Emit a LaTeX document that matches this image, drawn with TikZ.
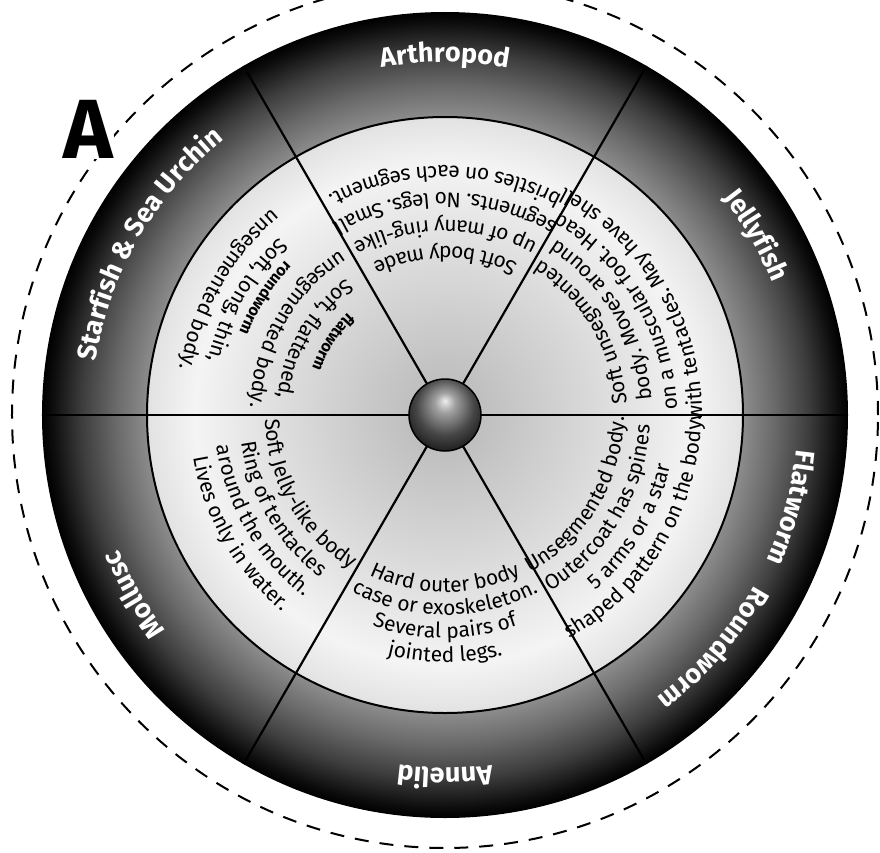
\documentclass[tikz,border=0pt]{standalone}
\usepackage{fontspec}
\setmainfont{Fira Sans}
\usetikzlibrary{decorations.text}
\definecolor{ringin}{HTML}{8E8E8E}
\definecolor{ringmid}{HTML}{6A6A6A}
\definecolor{ringdark}{HTML}{3E3E3E}
\definecolor{ringout}{HTML}{0C0C0C}
\definecolor{dsk0}{HTML}{B8B8B8}
\definecolor{dsk1}{HTML}{C0C0C0}
\definecolor{dsk2}{HTML}{DADADA}
\definecolor{dsk3}{HTML}{F4F4F4}
\definecolor{dsk4}{HTML}{E2E2E2}
\definecolor{bl0}{HTML}{EEEEEE}
\definecolor{bl1}{HTML}{A0A0A0}
\definecolor{bl2}{HTML}{464646}
\definecolor{bl3}{HTML}{141414}
\pgfdeclareradialshading{ringshade}{\pgfpoint{0bp}{0bp}}{color(0bp)=(ringin); color(18.4bp)=(ringin); color(20.4bp)=(ringmid); color(22.5bp)=(ringdark); color(24.4bp)=(ringout); color(25bp)=(black); color(50bp)=(black)}
\pgfdeclareradialshading{diskshade}{\pgfpoint{0bp}{0bp}}{color(0bp)=(dsk0); color(3.4bp)=(dsk1); color(12.6bp)=(dsk2); color(21bp)=(dsk3); color(25bp)=(dsk4); color(50bp)=(dsk4)}
\pgfdeclareradialshading{ballshade}{\pgfpoint{0bp}{10bp}}{color(0bp)=(bl0); color(7bp)=(bl1); color(20bp)=(bl2); color(32bp)=(bl3); color(50bp)=(black)}
\newcommand\wheelInner{\fontsize{21}{25}\selectfont}
\newcommand\wheelTag{\bfseries\fontsize{16}{19}\selectfont}
\newcommand\wheelLabel{\bfseries\fontsize{27}{32}\selectfont}
\newcommand\wheelline[4][\wheelInner]{%
  \pgfmathsetmacro\wlA{#2-85}\pgfmathsetmacro\wlB{#2+85}%
  \path[decorate,decoration={text along path,text align=center,text={|#1|#4}}]
    (\wlA:#3pt) arc[start angle=\wlA,end angle=\wlB,radius=#3pt];}
\newcommand\wheellabel[3]{%
  \pgfmathsetmacro\wlA{#1+85}\pgfmathsetmacro\wlB{#1-85}%
  \path[decorate,decoration={text along path,text align=center,text color=white,text={|\wheelLabel|#3}}]
    (\wlA:#2pt) arc[start angle=\wlA,end angle=\wlB,radius=#2pt];}
\tikzset{
  spoke/.style={line width=2.2pt, black},
  dashcircle/.style={line width=2pt, dash pattern=on 14pt off 11pt, black},
  rim/.style={line width=2pt, black}
}
\begin{document}
\begin{tikzpicture}
\useasboundingbox (-445pt,-437pt) rectangle (435pt,415pt);
\clip (-445pt,-437pt) rectangle (435pt,415pt);
\fill[white] (-445pt,-437pt) rectangle (435pt,415pt);
\draw[dashcircle] (0,0) circle[radius=433pt];
\shade[shading=ringshade] (0,0) circle[radius=403pt];
\shade[shading=diskshade] (0,0) circle[radius=298pt];
\draw[rim] (0,0) circle[radius=298pt];
\draw[spoke] (180:403pt) -- (0:403pt);
\foreach \a in {60,120,240,300} \draw[spoke] (\a:30pt) -- (\a:403pt);
\shade[shading=ballshade] (0,0) circle[radius=36pt];
\draw[line width=1.5pt] (0,0) circle[radius=36pt];
% top sector
\wheelline{90}{168}{Soft body made}
\wheelline{90}{195}{up of many ring-like}
\wheelline{90}{222}{segments. No legs. Small}
\wheelline{90}{249}{bristles on each segment.}
% upper right
\wheelline{31}{182}{Soft unsegmented}
\wheelline{31}{207}{body. Moves around}
\wheelline{31}{232}{on a muscular foot. Head}
\wheelline{30.5}{257}{with tentacles. May have shell}
% upper left
\wheelline[\wheelTag]{147}{141}{flatworm}
\wheelline{150}{168}{Soft, flattened,}
\wheelline{150}{195}{unsegmented body.}
\wheelline[\wheelTag]{147}{222}{roundworm}
\wheelline{150}{243}{Soft, long, thin,}
\wheelline{150}{269}{unsegmented body.}
% lower left
\wheelline{210}{180}{Soft Jelly-like body}
\wheelline{210}{205}{Ring of tentacles}
\wheelline{210}{230}{around the mouth.}
\wheelline{210}{255}{Lives only in water.}
% bottom
\wheelline{270}{177}{Hard outer body}
\wheelline{270}{200}{case or exoskeleton.}
\wheelline{270}{223}{Several pairs of}
\wheelline{270}{247}{jointed legs.}
% lower right
\wheelline{329}{179}{Unsegmented body.}
\wheelline{329}{205}{Outercoat has spines}
\wheelline{329}{231}{5 arms or a star}
\wheelline{329.5}{256}{shaped pattern on the body.}
% outer labels
\wheellabel{90}{353}{Arthropod}
\wheellabel{30}{353}{Jellyfish}
\wheellabel{-15}{353}{Flatworm}
\wheellabel{-41}{353}{Roundworm}
\wheellabel{-90}{353}{Annelid}
\wheellabel{210}{353}{Mollusc}
\wheellabel{150}{353}{Starfish {\&} Sea Urchin}
\node[font=\bfseries\fontsize{84}{84}\selectfont, fill=white, inner sep=1pt] (A) at (-357pt,286pt) {A};
\end{tikzpicture}
\end{document}
